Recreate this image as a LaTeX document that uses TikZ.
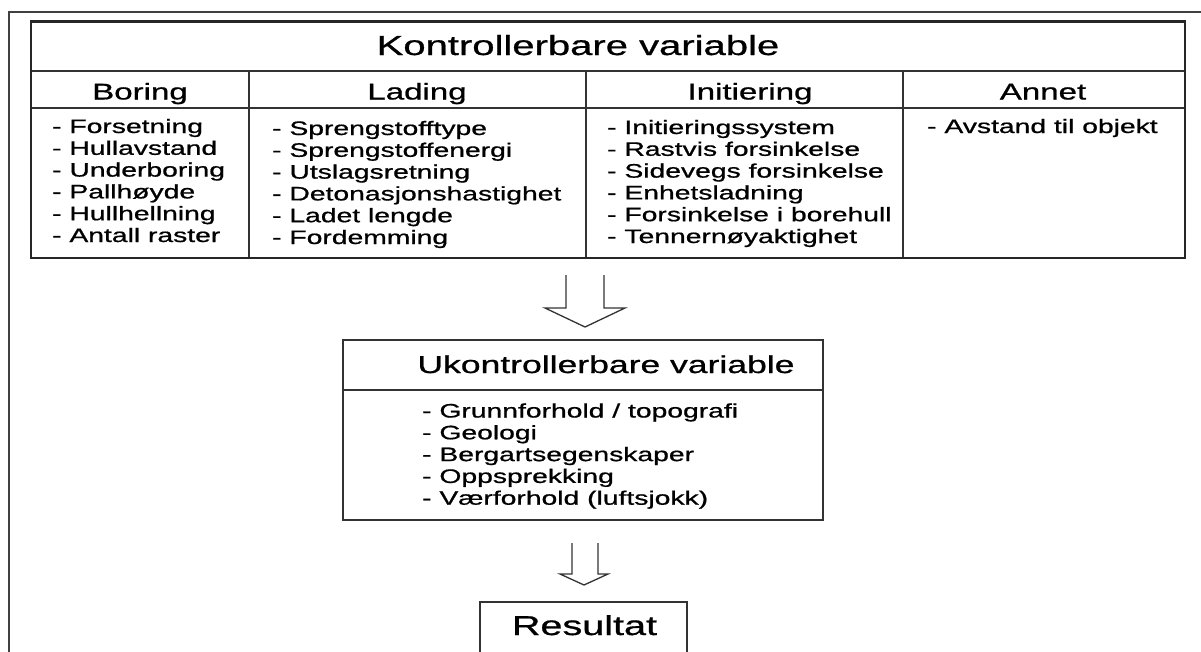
\documentclass[tikz,border=0pt]{standalone}
\usepackage{fontspec}
\usepackage{graphicx}
\setmainfont{Liberation Sans}[FakeBold=0.7]
\newcommand{\sxx}[1]{\scalebox{1.45}[1]{#1}}
\tikzset{
  frameline/.style={line width=2pt, draw=black!75},
  tabouter/.style={line width=2.4pt, draw=black!85},
  tabinner/.style={line width=1.5pt, draw=black!80},
  hollowarrow/.style={line width=1.3pt, draw=black!80, line join=miter},
  titletxt/.style={inner sep=0pt, anchor=base, font=\fontsize{27.6}{30}\selectfont},
  headtxt/.style={inner sep=0pt, anchor=base, font=\fontsize{22.8}{26}\selectfont},
  itemtxt/.style={inner sep=0pt, anchor=base west, font=\fontsize{19.5}{22}\selectfont},
  uktxt/.style={inner sep=0pt, anchor=base, font=\fontsize{24.5}{28}\selectfont},
  restxt/.style={inner sep=0pt, anchor=base, font=\fontsize{27.3}{30}\selectfont},
}
\begin{document}
\begin{tikzpicture}[x=1pt,y=-1pt]
\clip (0,0) rectangle (1201,651);
\fill[white] (0,0) rectangle (1201,651);
% page frame (cropped)
\draw[frameline] (9,670) -- (9,11.5) -- (1215,11.5);
% table
\draw[tabinner] (31,71) -- (1185,71);
\draw[tabinner] (31,108) -- (1185,108);
\draw[tabinner] (249,71) -- (249,258);
\draw[tabinner] (586,71) -- (586,258);
\draw[tabinner] (903,71) -- (903,258);
\draw[tabouter] (31,21.5) rectangle (1185,258);
% headings
\node[titletxt] (title) at (578,55) {\sxx{Kontrollerbare variable}};
\node[headtxt] (hboring) at (140,99.5) {\sxx{Boring}};
\node[headtxt] (hlading) at (417,99.5) {\sxx{Lading}};
\node[headtxt] (hinit) at (750,99.5) {\sxx{Initiering}};
\node[headtxt] (hannet) at (1043,99.5) {\sxx{Annet}};
% Boring list
\foreach \t [count=\i] in {Forsetning,Hullavstand,Underboring,Pallhøyde,Hullhellning,Antall raster}
  \node[itemtxt] (b\i) at (52,{133+(\i-1)*21.8}) {\sxx{- \t}};
% Lading list
\foreach \t [count=\i] in {Sprengstofftype,Sprengstoffenergi,Utslagsretning,Detonasjonshastighet,Ladet lengde,Fordemming}
  \node[itemtxt] (l\i) at (272,{135+(\i-1)*21.8}) {\sxx{- \t}};
% Initiering list
\foreach \t [count=\i] in {Initieringssystem,Rastvis forsinkelse,Sidevegs forsinkelse,Enhetsladning,Forsinkelse i borehull,Tennernøyaktighet}
  \node[itemtxt] (i\i) at (607,{134+(\i-1)*21.8}) {\sxx{- \t}};
% Annet
\node[itemtxt] (a1) at (927,133) {\sxx{- Avstand til objekt}};
% arrow 1
\coordinate (a1l) at (566,275);
\coordinate (a1r) at (604,275);
\draw[hollowarrow] (a1l) -- (566,308) -- (545,308) -- (585,327) -- (625,308) -- (604,308) -- (a1r);
% Ukontrollerbare box
\draw[tabinner] (343,340) rectangle (823,520);
\draw[tabinner] (343,390) -- (823,390);
\node[uktxt] (uk) at (606,373) {\sxx{Ukontrollerbare variable}};
\foreach \t [count=\i] in {Grunnforhold / topografi,Geologi,Bergartsegenskaper,Oppsprekking,Værforhold (luftsjokk)}
  \node[itemtxt] (u\i) at (422,{417.5+(\i-1)*21.8}) {\sxx{- \t}};
% arrow 2
\coordinate (a2l) at (572,543);
\coordinate (a2r) at (598,543);
\draw[hollowarrow] (a2l) -- (572,574) -- (560,574) -- (584,585) -- (608,574) -- (598,574) -- (a2r);
% Resultat box
\draw[tabinner] (480,670) -- (480,602) -- (687,602) -- (687,670);
\node[restxt] (res) at (584.5,635) {\sxx{Resultat}};
\end{tikzpicture}
\end{document}
